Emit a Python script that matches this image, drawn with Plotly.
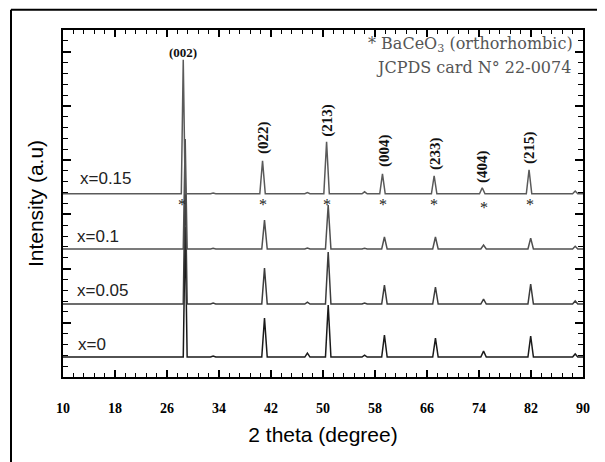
import plotly.graph_objects as go

# ---------------- data ----------------
series_labels = ["x=0", "x=0.05", "x=0.1", "x=0.15"]
series_colors = ["#1a1a1a", "#3c3c3c", "#505050", "#5a5a5a"]
baselines = [184, 673, 1180, 1690]

hkl_labels = ["(002)", "(022)", "(213)", "(004)", "(233)", "(404)", "(215)"]
peak_pos_x015 = [28.5, 40.7, 50.55, 59.15, 67.1, 74.5, 81.7]
peak_pos_other = [28.8, 41.0, 50.8, 59.45, 67.3, 74.7, 81.95]

heights_x0 = [1200, 360, 480, 203, 175, 55, 194]
heights_x005 = [1200, 332, 480, 175, 157, 46, 184]
heights_x01 = [1014, 267, 406, 111, 111, 37, 101]
heights_x015 = [1236, 304, 480, 184, 166, 55, 221]

# small extra bumps (position, height) per series
minor_pos = [33.1, 47.6, 56.4, 88.8]
minor_h_x0 = [10, 37, 18, 28]
minor_h_x005 = [8, 18, 10, 28]
minor_h_x01 = [6, 10, 8, 25]
minor_h_x015 = [6, 10, 18, 25]

star_pos = [28.3, 40.8, 50.6, 59.2, 67.1, 74.7, 81.9]
star_y = [1614, 1614, 1614, 1614, 1614, 1595, 1614]

hkl_x = [28.46, 40.77, 50.57, 59.38, 67.23, 74.6, 81.85]
hkl_y = [2997, 2204, 2370, 2093, 2056, 1946, 2112]

label_x = [12.0, 11.85, 11.85, 12.3]
label_y = [304, 802, 1300, 1835]

x_tick_vals = [10, 18, 26, 34, 42, 50, 58, 66, 74, 82, 90]

# ---------------- build traces ----------------
all_pos = [peak_pos_other, peak_pos_other, peak_pos_other, peak_pos_x015]
all_h = [heights_x0, heights_x005, heights_x01, heights_x015]
all_minor = [minor_h_x0, minor_h_x005, minor_h_x01, minor_h_x015]


def build(base, pos, hts, mh):
    pts = []
    for i, (p, h) in enumerate(zip(pos, hts)):
        w = 0.3 if i == 0 else 0.42
        pts += [(p - w, base), (p, base + h), (p + w, base)]
    for p, h in zip(minor_pos, mh):
        pts += [(p - 0.4, base), (p, base + h), (p + 0.4, base)]
    pts.sort()
    xs = [10] + [q[0] for q in pts] + [90]
    ys = [base] + [q[1] for q in pts] + [base]
    return xs, ys


fig = go.Figure()
for k in range(4):
    xs, ys = build(baselines[k], all_pos[k], all_h[k], all_minor[k])
    fig.add_trace(go.Scatter(x=xs, y=ys, mode="lines",
                             line=dict(color=series_colors[k], width=1.5),
                             showlegend=False, hoverinfo="skip"))

ann = []
for i, (lab, xx, yy) in enumerate(zip(hkl_labels, hkl_x, hkl_y)):
    ann.append(dict(x=xx, y=yy, text="<b>%s</b>" % lab, showarrow=False,
                    textangle=0 if i == 0 else -90,
                    font=dict(family="Liberation Serif", size=13 if i == 0 else 15, color="#111")))
for xx, yy in zip(star_pos, star_y):
    ann.append(dict(x=xx, y=yy, text="*", showarrow=False, yshift=-3,
                    font=dict(family="Liberation Serif", size=16, color="#222")))
for lab, xx, yy in zip(series_labels, label_x, label_y):
    ann.append(dict(x=xx, y=yy, text=lab, showarrow=False, xanchor="left",
                    font=dict(family="Liberation Sans", size=17, color="#222")))
ann.append(dict(x=72.7, y=3062, text="* BaCeO<sub>3</sub> (orthorhombic)", showarrow=False,
                font=dict(family="DejaVu Serif", size=16, color="#555")))
ann.append(dict(x=73.1, y=2850, text="JCPDS card N° 22-0074", showarrow=False,
                font=dict(family="DejaVu Serif", size=16, color="#555")))

# page body adds an 8px offset; figure is sized to fill the rest of the window
fig.update_layout(
    width=597, height=454,
    margin=dict(l=55, r=22, t=22, b=85),
    paper_bgcolor="white", plot_bgcolor="white",
    annotations=ann,
    shapes=[
        dict(type="line", xref="paper", yref="paper", x0=-0.1, x1=1.029, y0=1.058, y1=1.058,
             line=dict(color="black", width=2)),
        dict(type="line", xref="paper", yref="paper", x0=-0.1, x1=-0.1, y0=1.058, y1=-0.3,
             line=dict(color="black", width=2)),
        dict(type="line", xref="paper", yref="paper", x0=1.029, x1=1.029, y0=1.058, y1=-0.3,
             line=dict(color="black", width=2)),
    ],
    xaxis=dict(range=[10, 90], tickmode="array", tickvals=x_tick_vals,
               ticks="inside", ticklen=7, tickwidth=1.5, tickcolor="black",
               showline=True, linecolor="black", linewidth=2, mirror="allticks",
               showgrid=False, zeroline=False, ticklabelstandoff=17,
               tickfont=dict(family="Liberation Serif", size=14, color="black", weight="bold"),
               minor=dict(ticks="inside", ticklen=4, tickwidth=1, tickcolor="black",
                          dtick=1.6, tick0=10, showgrid=False),
               title=dict(text="2 theta (degree)", standoff=13,
                          font=dict(family="Liberation Sans", size=21, color="black"))),
    yaxis=dict(range=[0, 3200], tickmode="linear", tick0=0, dtick=500,
               ticks="inside", ticklen=8, tickwidth=1.5, tickcolor="black",
               showline=True, linecolor="black", linewidth=2, mirror="allticks",
               showgrid=False, zeroline=False, showticklabels=False,
               minor=dict(ticks="inside", ticklen=5, tickwidth=1, tickcolor="black",
                          dtick=100, showgrid=False),
               title=dict(text="Intensity (a.u)", standoff=12,
                          font=dict(family="Liberation Sans", size=21, color="black"))),
)

fig.write_html("out.html")
